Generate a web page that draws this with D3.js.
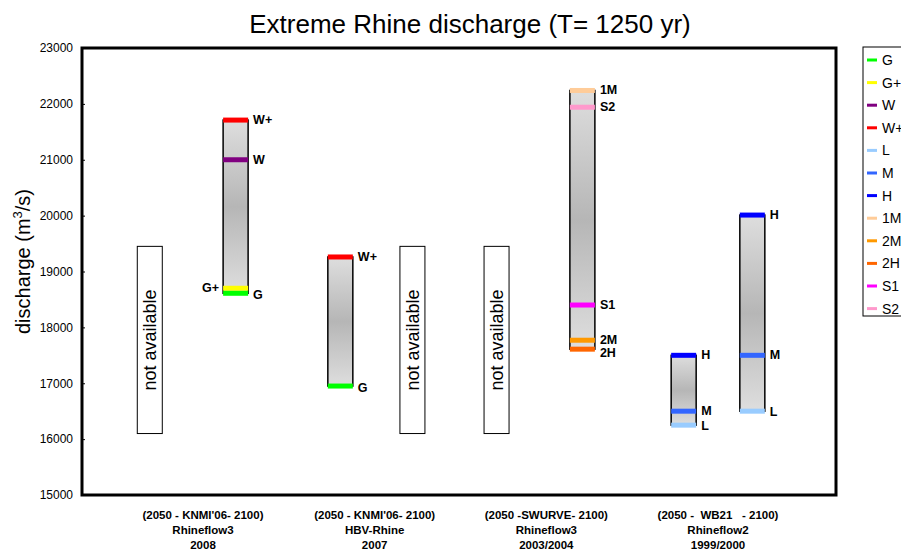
<!DOCTYPE html>
<html>
<head>
<meta charset="utf-8">
<script src="https://cdn.jsdelivr.net/npm/d3@7"></script>
<style>
body { margin: 0; background: #fff; }
svg { font-family: Arial, "Liberation Sans", sans-serif; }
</style>
</head>
<body>
<div id="chart"></div>
<script>
// chart size
var svgWidth = 901;
var svgHeight = 554;
var margin = { top: 48, right: 65, bottom: 59, left: 82 };
var chartWidth = svgWidth - margin.left - margin.right;
var chartHeight = svgHeight - margin.top - margin.bottom;

// categories (three label lines each)
var catScenario = ["(2050 - KNMI'06- 2100)", "(2050 - KNMI'06- 2100)", "(2050 -SWURVE- 2100)", "(2050 -  WB21   - 2100)"];
var catModel = ["Rhineflow3", "HBV-Rhine", "Rhineflow3", "Rhineflow2"];
var catYear = ["2008", "2007", "2003/2004", "1999/2000"];

// y ticks
var yTicks = [15000, 16000, 17000, 18000, 19000, 20000, 21000, 22000, 23000];

// "not available" columns: position on category axis, range
var naPos = [-0.31, 1.22, 1.71];
var naLow = 16100;
var naHigh = 19450;

// bars: position on category axis and their scenario values
var barPos = [0.19, 0.8, 2.21, 2.8, 3.2];
var barNames = [
    ["W+", "W", "G+", "G"],
    ["W+", "G"],
    ["1M", "S2", "S1", "2M", "2H"],
    ["H", "M", "L"],
    ["H", "M", "L"]
];
var barValues = [
    [21710, 21000, 18700, 18610],
    [19260, 16950],
    [22240, 21940, 18400, 17770, 17610],
    [17500, 16500, 16250],
    [20010, 17500, 16500]
];

// legend
var legendNames = ["G", "G+", "W", "W+", "L", "M", "H", "1M", "2M", "2H", "S1", "S2"];
var legendColors = ["#00ff00", "#ffff00", "#800080", "#ff0000", "#99ccff", "#3366ff", "#0000ff",
    "#ffcc99", "#ff9900", "#ff6600", "#ff00ff", "#ff99cc"];

var color = d3.scaleOrdinal().domain(legendNames).range(legendColors);

var svg = d3.select("#chart")
    .append("svg")
    .attr("width", svgWidth)
    .attr("height", svgHeight);

var defs = svg.append("defs");
var grad = defs.append("linearGradient")
    .attr("id", "barGrad")
    .attr("x1", 0).attr("y1", 0).attr("x2", 0).attr("y2", 1);
grad.append("stop").attr("offset", "0%").attr("stop-color", "#dedede");
grad.append("stop").attr("offset", "50%").attr("stop-color", "#b6b6b6");
grad.append("stop").attr("offset", "100%").attr("stop-color", "#dedede");

var chartGroup = svg.append("g")
    .attr("transform", `translate(${margin.left}, ${margin.top})`);

// scales
var yScale = d3.scaleLinear()
    .domain([15000, 23000])
    .range([chartHeight, 0]);

// category index -> pixel
var xScale = d3.scaleLinear()
    .domain([0, 3])
    .range([203 - margin.left, 718 - margin.left]);

var colWidth = 25;

// y axis
var leftAxis = d3.axisLeft(yScale)
    .tickValues(yTicks)
    .tickSize(-3)
    .tickPadding(9)
    .tickFormat(d3.format("d"));

var yAxis = chartGroup.append("g")
    .call(leftAxis);
yAxis.select(".domain").remove();
yAxis.selectAll("text")
    .attr("font-size", 12)
    .attr("font-family", "Arial, 'Liberation Sans', sans-serif")
    .attr("fill", "#000");
yAxis.selectAll("line").attr("stroke", "#000");

// title
svg.append("text")
    .attr("x", 470)
    .attr("y", 33)
    .attr("text-anchor", "middle")
    .attr("font-size", 26)
    .text("Extreme Rhine discharge (T= 1250 yr)");

// y axis label
var yLabel = svg.append("text")
    .attr("transform", `translate(30, ${margin.top + chartHeight / 2 - 10}) rotate(-90)`)
    .attr("text-anchor", "middle")
    .attr("font-size", 20);
yLabel.append("tspan").text("discharge (m");
yLabel.append("tspan").attr("font-size", 13).attr("dy", -8).text("3");
yLabel.append("tspan").attr("dy", 8).text("/s)");

// not available boxes
var naGroup = chartGroup.selectAll(".na")
    .data(naPos)
    .enter()
    .append("g")
    .attr("class", "na");

naGroup.append("rect")
    .attr("x", d => xScale(d) - colWidth / 2)
    .attr("y", yScale(naHigh))
    .attr("width", colWidth)
    .attr("height", yScale(naLow) - yScale(naHigh))
    .attr("fill", "#fff")
    .attr("stroke", "#000")
    .attr("stroke-width", 1);

naGroup.append("text")
    .attr("transform", d => `translate(${xScale(d) + 6.5}, ${(yScale(naLow) + yScale(naHigh)) / 2}) rotate(-90)`)
    .attr("text-anchor", "middle")
    .attr("font-size", 18)
    .text("not available");

// bars
var bars = barPos.map((p, i) => ({
    pos: p,
    items: barNames[i].map((n, j) => ({ name: n, value: barValues[i][j] }))
}));

var barGroup = chartGroup.selectAll(".bar")
    .data(bars)
    .enter()
    .append("g")
    .attr("class", "bar");

barGroup.append("rect")
    .attr("x", d => xScale(d.pos) - colWidth / 2)
    .attr("y", d => yScale(d3.max(d.items, e => e.value)))
    .attr("width", colWidth)
    .attr("height", d => yScale(d3.min(d.items, e => e.value)) - yScale(d3.max(d.items, e => e.value)))
    .attr("fill", "url(#barGrad)")
    .attr("stroke", "#000")
    .attr("stroke-width", 1.5);

barGroup.each(function (d) {
    var g = d3.select(this);
    var cx = xScale(d.pos);
    g.selectAll(".mark")
        .data(d.items)
        .enter()
        .append("line")
        .attr("x1", cx - colWidth / 2)
        .attr("x2", cx + colWidth / 2)
        .attr("y1", e => yScale(e.value))
        .attr("y2", e => yScale(e.value))
        .attr("stroke", e => color(e.name))
        .attr("stroke-width", 5);

    g.selectAll(".lbl")
        .data(d.items)
        .enter()
        .append("text")
        .attr("x", e => e.name === "G+" ? cx - colWidth / 2 - 4 : cx + colWidth / 2 + 5)
        .attr("y", e => yScale(e.value) + (e.name === "2H" ? 8 : e.name === "G" ? 6 : e.name === "L" ? 5 : 4))
        .attr("text-anchor", e => e.name === "G+" ? "end" : "start")
        .attr("font-size", 12.5)
        .attr("font-weight", "bold")
        .text(e => e.name);
});

// frame
chartGroup.append("rect")
    .attr("x", 0)
    .attr("y", 0)
    .attr("width", chartWidth)
    .attr("height", chartHeight)
    .attr("fill", "none")
    .attr("stroke", "#000")
    .attr("stroke-width", 3);

// category labels
var catGroup = svg.selectAll(".cat")
    .data(catScenario)
    .enter()
    .append("text")
    .attr("class", "cat")
    .attr("x", (d, i) => margin.left + xScale(i))
    .attr("y", 519)
    .attr("text-anchor", "middle")
    .attr("font-size", 11.5)
    .attr("font-weight", "bold");

catGroup.append("tspan").text(d => d).attr("xml:space", "preserve").style("white-space", "pre");
catGroup.append("tspan")
    .attr("x", (d, i) => margin.left + xScale(i))
    .attr("dy", 15)
    .text((d, i) => catModel[i]);
catGroup.append("tspan")
    .attr("x", (d, i) => margin.left + xScale(i))
    .attr("dy", 15)
    .text((d, i) => catYear[i]);

// legend
var legend = svg.append("g")
    .attr("transform", "translate(863, 47)");

legend.append("rect")
    .attr("x", 0)
    .attr("y", 0)
    .attr("width", 60)
    .attr("height", 269)
    .attr("fill", "#fff")
    .attr("stroke", "#000")
    .attr("stroke-width", 1);

var legendItem = legend.selectAll(".li")
    .data(legendNames)
    .enter()
    .append("g")
    .attr("class", "li")
    .attr("transform", (d, i) => `translate(0, ${13 + i * 22.6})`);

legendItem.append("line")
    .attr("x1", 4)
    .attr("x2", 14)
    .attr("y1", 0)
    .attr("y2", 0)
    .attr("stroke", d => color(d))
    .attr("stroke-width", 3);

legendItem.append("text")
    .attr("x", 19)
    .attr("y", 5)
    .attr("font-size", 14)
    .text(d => d);
</script>
</body>
</html>
